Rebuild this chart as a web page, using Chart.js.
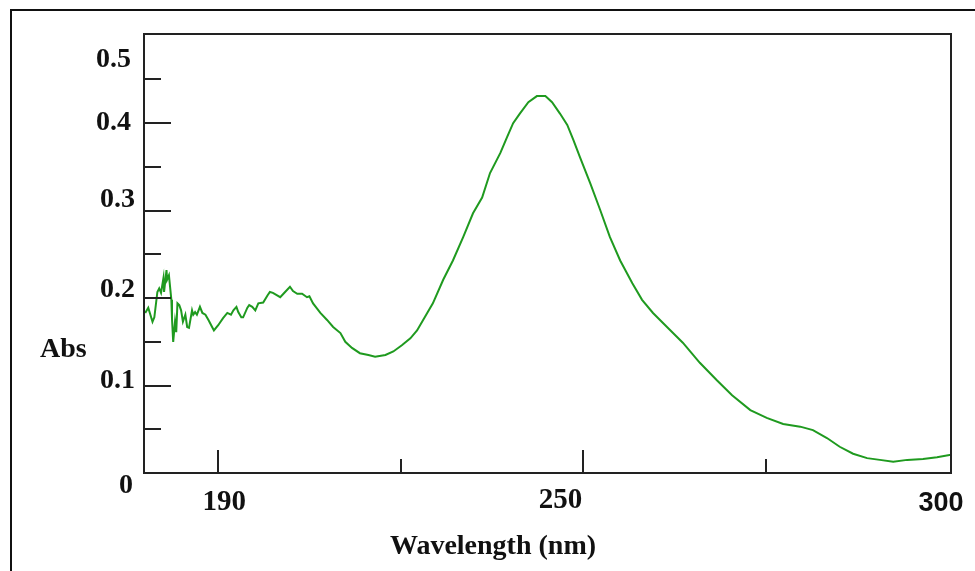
<!DOCTYPE html>
<html>
<head>
<meta charset="utf-8">
<script src="https://cdn.jsdelivr.net/npm/chart.js@4"></script>
<style>
  body { margin: 0; background: #fff; }
  canvas { display: block; }
</style>
</head>
<body>
<canvas id="myChart" width="975" height="571"></canvas>
<script>
// UV spectrum (nm, Abs)
const wavelengths = [
  178.0, 178.5, 179.2, 179.5, 180.0, 180.3, 180.6, 181.0, 181.1, 181.5,
  181.6, 181.9, 182.3, 182.4, 182.6, 182.9, 183.1, 183.3, 183.6, 183.9,
  184.2, 184.6, 184.9, 185.2, 185.7, 185.9, 186.2, 186.5, 187.0, 187.4,
  187.9, 188.4, 189.0, 189.3, 190.0, 190.8, 191.5, 192.1, 192.5, 193.0,
  193.3, 193.8, 194.1, 194.8, 195.1, 195.6, 196.1, 196.6, 197.4, 198.1,
  198.5, 199.0, 200.2, 201.0, 201.8, 202.3, 203.0, 203.8, 204.6, 205.0,
  205.6, 206.8, 207.9, 208.9, 210.1, 210.9, 212.0, 213.3, 214.7, 215.8,
  217.5, 218.8, 220.2, 221.6, 222.7, 223.7, 225.3, 227.0, 228.6, 230.3,
  231.9, 233.4, 234.7, 236.4, 237.5, 238.5, 239.6, 241.0, 242.4, 243.8,
  244.9, 246.2, 247.4, 248.4, 249.5, 251.2, 252.8, 254.4, 256.1, 258.1,
  259.7, 261.5, 263.8, 266.4, 269.2, 272.0, 274.5, 277.5, 280.2, 282.9,
  285.7, 287.8, 290.1, 292.2, 294.4, 296.7, 298.8, 301.0, 303.3, 305.9,
  308.2, 310.5
];
const absorbance = [
  0.183, 0.189, 0.173, 0.178, 0.207, 0.211, 0.206, 0.223, 0.207, 0.232,
  0.221, 0.226, 0.198, 0.177, 0.150, 0.173, 0.161, 0.194, 0.192, 0.186,
  0.173, 0.181, 0.167, 0.166, 0.186, 0.181, 0.184, 0.181, 0.190, 0.183,
  0.181, 0.175, 0.167, 0.163, 0.169, 0.177, 0.183, 0.181, 0.186, 0.190,
  0.184, 0.178, 0.178, 0.189, 0.192, 0.190, 0.186, 0.194, 0.195, 0.203,
  0.207, 0.206, 0.201, 0.207, 0.213, 0.208, 0.205, 0.205, 0.201, 0.202,
  0.194, 0.183, 0.175, 0.167, 0.160, 0.150, 0.143, 0.137, 0.135, 0.133,
  0.135, 0.139, 0.146, 0.154, 0.163, 0.175, 0.194, 0.221, 0.243, 0.270,
  0.297, 0.315, 0.343, 0.366, 0.384, 0.400, 0.411, 0.424, 0.431, 0.431,
  0.424, 0.411, 0.398, 0.381, 0.361, 0.331, 0.301, 0.270, 0.243, 0.217,
  0.198, 0.183, 0.167, 0.149, 0.126, 0.106, 0.089, 0.072, 0.063, 0.056,
  0.053, 0.049, 0.040, 0.030, 0.022, 0.017, 0.015, 0.013, 0.015, 0.016,
  0.018, 0.021
];

// axis ticks and their texts as printed in the picture
const xMajorTicks = [190, 250];
const xMinorTicks = [220, 280];
const xTickLabels = ['190', '250', '300'];
const yMajorTicks = [0.1, 0.2, 0.3, 0.4];
const yMinorTicks = [0.05, 0.15, 0.25, 0.35, 0.45];
const yTickLabels = ['0', '0.1', '0.2', '0.3', '0.4', '0.5'];

const serif = '"Liberation Serif", "Times New Roman", serif';

const frame = {
  id: 'frame',
  afterDatasetsDraw(chart) {
    const { ctx, chartArea: a, scales: { x, y } } = chart;
    ctx.save();
    ctx.strokeStyle = '#111';
    ctx.lineWidth = 2;
    // outer picture border (left + top)
    ctx.beginPath();
    ctx.moveTo(11, 571); ctx.lineTo(11, 10); ctx.lineTo(975, 10);
    ctx.stroke();

    // plot box
    ctx.strokeStyle = '#222';
    ctx.strokeRect(a.left, a.top, a.right - a.left, a.bottom - a.top);

    // inward ticks
    ctx.beginPath();
    yMajorTicks.forEach(v => { const p = Math.round(y.getPixelForValue(v)); ctx.moveTo(a.left, p); ctx.lineTo(a.left + 27, p); });
    yMinorTicks.forEach(v => { const p = Math.round(y.getPixelForValue(v)); ctx.moveTo(a.left, p); ctx.lineTo(a.left + 17, p); });
    xMajorTicks.forEach(v => { const p = Math.round(x.getPixelForValue(v)); ctx.moveTo(p, a.bottom); ctx.lineTo(p, a.bottom - 23); });
    xMinorTicks.forEach(v => { const p = Math.round(x.getPixelForValue(v)); ctx.moveTo(p, a.bottom); ctx.lineTo(p, a.bottom - 14); });
    ctx.stroke();

    // y labels (they sit a bit off their ticks in the original)
    ctx.fillStyle = '#111';
    ctx.font = 'bold 28px ' + serif;
    ctx.textAlign = 'right';
    ctx.textBaseline = 'middle';
    const yLabelAt = [-0.015, 0.105, 0.21, 0.313, 0.401, 0.472];
    yTickLabels.forEach((t, i) => {
      ctx.fillText(t, i === 0 ? 133 : (i >= 4 ? 131 : 135), y.getPixelForValue(yLabelAt[i]));
    });
    ctx.textAlign = 'left';
    ctx.fillText('Abs', 40, 350);

    // x labels
    ctx.textAlign = 'center';
    ctx.font = 'bold 29px ' + serif;
    ctx.fillText(xTickLabels[0], x.getPixelForValue(191), 503);
    ctx.fillText(xTickLabels[1], x.getPixelForValue(246.3), 501);
    ctx.font = 'bold 27px "Liberation Sans", Arial, sans-serif';
    ctx.fillText(xTickLabels[2], 941, 504);

    ctx.font = 'bold 28px ' + serif;
    ctx.fillText('Wavelength (nm)', 493, 547);
    ctx.restore();
  }
};

const ctx = document.getElementById('myChart').getContext('2d');

const config = {
  type: 'line',
  data: {
    datasets: [{
      label: 'Abs',
      data: wavelengths.map((w, i) => ({ x: w, y: absorbance[i] })),
      borderColor: '#1f9a1f',
      borderWidth: 2,
      pointRadius: 0,
      tension: 0,
      fill: false
    }]
  },
  options: {
    responsive: false,
    animation: false,
    layout: { padding: { left: 144, top: 34, right: 24, bottom: 98 } },
    plugins: { legend: { display: false }, tooltip: { enabled: false } },
    scales: {
      x: { type: 'linear', min: 177.8, max: 310.5, display: false },
      y: { min: 0, max: 0.502, display: false }
    }
  },
  plugins: [frame]
};

const myChart = new Chart(ctx, config);
</script>
</body>
</html>
